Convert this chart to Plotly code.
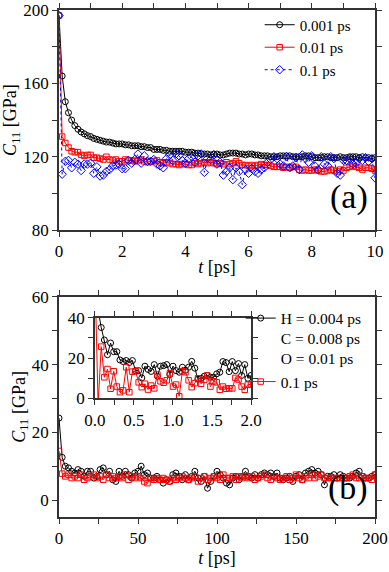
import plotly.graph_objects as go

# panel (a): C11 vs t for three time steps, sampled every 0.1 ps
t_a = [round(0.1 * i, 1) for i in range(101)]
c11_001 = [197, 164, 150, 144, 140, 137, 135, 133.5, 132.5, 131.5,
           131, 130, 129.5, 129, 128.5, 128, 128, 127.5, 127, 127,
           127, 126.5, 126.5, 126, 126, 126, 125.5, 125.5, 125, 125,
           124, 124, 124, 123.5, 123.5, 123, 123, 123, 123, 123,
           122.5, 122.5, 122.5, 122, 122, 121.5, 121.5, 121.5, 121, 121.5,
           121.5, 121, 121, 121.5, 122, 122, 122, 121.5, 121.5, 121,
           121.5, 121.5, 121, 121, 120.5, 120.5, 120.5, 120, 120, 120,
           120.5, 120.5, 120.5, 120.5, 120, 120, 120, 120, 120.5, 120.5,
           120, 119.5, 119.5, 119.5, 120, 120, 119.5, 119.5, 119.5, 120,
           119.5, 119.5, 120, 120, 120, 119.5, 120, 119.5, 119.5, 119,
           119.5]
c11_01 = [197, 131, 127.5, 125, 123, 122.5, 122.5, 121, 120.5, 121,
          121, 119.5, 119.5, 119, 118.5, 120, 118.5, 118, 118.5, 117.5,
          117.5, 118.5, 118, 118, 117.5, 118, 118.5, 117.5, 117, 117.5,
          117.5, 118, 117, 116.5, 117, 116.5, 116, 116, 115.5, 116,
          116, 115.5, 115.5, 116.5, 116, 116.5, 117, 116.5, 117, 116.5,
          116, 116.5, 116, 117, 116, 116.5, 117.5, 116.5, 115.5, 115.5,
          115, 115.5, 115, 115.5, 116, 115.5, 115.5, 115, 114.5, 114.5,
          114.5, 114, 114.5, 114, 114.5, 114.5, 113, 112.5, 113, 112.5,
          112.5, 113, 112.5, 112, 112, 112.5, 113, 112.5, 112, 113,
          112.5, 114, 114.5, 115, 114.5, 114, 113, 114, 114, 113.5,
          112.5]
c11_1 = [197, 110.5, 117.5, 118, 114, 117, 116, 112.5, 116, 116,
         116.5, 111, 114.5, 109.5, 110, 112, 113, 115, 115.5, 116,
         113.5, 113.5, 118, 116.5, 118.5, 121.5, 116.5, 120.5, 117.5, 117.5,
         118.5, 116, 115, 114, 119, 121, 118, 121.5, 120.5, 118,
         116.5, 119, 120, 117, 120.5, 121.5, 111.5, 119, 118.5, 121,
         116, 117, 110, 112, 114, 107.5, 114, 112, 104.8, 113,
         111, 113.5, 112, 111, 113, 114, 117, 118.5, 120, 119,
         116, 115, 120, 114, 115, 119.5, 113, 121, 119, 117,
         120.5, 115, 113, 120, 116, 115, 120, 119, 111, 110,
         118, 118, 119, 116, 116.5, 119, 118, 119.5, 117.5, 119,
         108.5]

# panel (b): long run, sampled every 2 ps
t_b = [2 * i for i in range(101)]
c11_mixed = [24.2, 12.6, 10, 9.5, 8.5, 8, 9, 8.5, 7, 8.5,
             8.5, 6.5, 7, 9, 9.5, 7.5, 8.5, 6, 5.5, 8.5,
             7, 8.5, 7.5, 6.5, 8, 8.5, 10, 7.5, 8, 6.5,
             6.5, 7, 6, 5, 6, 5.5, 7.5, 8, 7, 6,
             7.5, 6, 7, 8.5, 6.5, 5.5, 7, 3.5, 5.5, 7,
             8.5, 7.5, 6.5, 5, 4.5, 6.5, 7, 6, 7, 8.5,
             7, 6.5, 7.5, 6.5, 7.5, 8, 7.5, 8, 7, 8,
             6.5, 6, 6.5, 7, 5.5, 7, 7.5, 6, 8, 8.5,
             9, 8, 8.5, 7.5, 4.5, 7, 7, 7.5, 6.5, 7.5,
             7, 6.5, 6.5, 7, 8, 8.5, 7, 6.5, 6.5, 7,
             7.5]
c11_big = [14.5, 7.8, 7, 7.5, 6.5, 7, 6.5, 7.5, 6, 6.5,
           7, 7.5, 6.5, 7, 6, 7.5, 6.5, 7, 6.5, 7,
           6.5, 7.5, 6, 7, 6.5, 7, 6.5, 5.5, 5, 6.5,
           6, 6.5, 6, 6.5, 6, 5.5, 6.5, 6, 6.5, 7,
           6.5, 6, 6.5, 7, 5.5, 6.5, 7, 6, 6.5, 7,
           6.5, 6, 7.5, 6.5, 6.5, 7, 6, 7, 6.5, 7,
           6.5, 7, 6, 6.5, 7, 7.5, 6.5, 6, 7, 6.5,
           6, 6.5, 7, 6, 6.5, 7.5, 6.5, 6, 7, 6.5,
           7.5, 6.5, 7, 7.5, 6.5, 6.5, 6.5, 6.5, 6.5, 6.5,
           6.5, 6.5, 7, 7.5, 6.5, 6.5, 7, 6.5, 6.5, 6,
           7.5]

# inset of (b): first 2 ps, sampled every 0.04 ps
t_in = [round(0.04 * i, 2) for i in range(51)]
c11_mixed_in = [60, 44, 35.2, 29, 21.7, 27.5, 23.2, 23.2, 19.1, 18.3,
                18.8, 17.8, 18.8, 13.8, 13.8, 10.2, 16, 14.4, 13.4, 16.8,
                11, 16, 16.3, 16.8, 11.9, 16, 13.8, 13, 15.5, 14,
                15.5, 18.4, 15, 9.5, 10, 11, 11.4, 10.5, 10.5, 12.2,
                13, 18.3, 17.8, 13.3, 18.3, 13.8, 17.3, 11.4, 16.8, 10,
                11.4]
c11_big_in = [60, -3, 25.7, 10.5, 14.6, 4.8, 13.5, 5.9, 3.1, 4,
              15.5, 3.1, 13.3, 13.5, 8, 5.6, 7.3, 4.4, 6.4, 5,
              11.9, 8.5, 7.8, 9, 12.5, 5.9, 6.9, 1.1, 13.5, 13,
              9, 5.6, 7.6, 10, 7.3, 9.2, 11.4, 5.9, 8.5, 8,
              4.3, 5.9, 4.8, 5, 5, 10.2, 9.4, 5.9, 4.3, 6.9,
              6.9]

FONT = "Liberation Serif"
BLACK = "#000000"
RED = "#ff0000"
BLUE = "#0000ff"

fig = go.Figure()

def series(x, y, name, color, symbol, xa, ya, dash="solid", legend="legend", show=True, size=6):
    fig.add_trace(go.Scatter(
        x=x, y=y, name=name, mode="lines+markers",
        line=dict(color=color, width=1, dash=dash),
        marker=dict(symbol=symbol, size=size, color=color, line=dict(width=1, color=color)),
        xaxis=xa, yaxis=ya, legend=legend, showlegend=show, cliponaxis=True,
    ))

# panel (a)
series(t_a, c11_001, "0.001 ps", BLACK, "circle-open", "x", "y")
series(t_a, c11_01, "0.01 ps", RED, "square-open", "x", "y", size=5.5)
series(t_a, c11_1, "0.1 ps", BLUE, "diamond-open", "x", "y", dash="dot", size=6.5)

# panel (b)
series(t_b, c11_mixed, "H = 0.004 ps<br>C = 0.008 ps<br>O = 0.01 ps", BLACK, "circle-open", "x2", "y2", legend="legend2")
series(t_b, c11_big, "0.1 ps", RED, "square-open", "x2", "y2", legend="legend2", size=5.5)
series(t_in, c11_mixed_in, "", BLACK, "circle-open", "x3", "y3", show=False)
series(t_in, c11_big_in, "", RED, "square-open", "x3", "y3", show=False, size=5.5)

axis_common = dict(
    showline=True, linecolor="#333333", linewidth=1.5, mirror="ticks",
    ticks="outside", ticklen=5, tickwidth=1.2, tickcolor="#333333",
    showgrid=False, zeroline=False, automargin=False,
    ticklabeloverflow="allow",
    tickfont=dict(family=FONT, size=17, color=BLACK),
)

def ticks(vals, every):
    return dict(tickmode="array", tickvals=vals,
                ticktext=[(str(v) if i % every == 0 else "") for i, v in enumerate(vals)])

xa_ticks = ticks(list(range(0, 11)), 2)
ya_ticks = ticks(list(range(80, 201, 20)), 2)
xb_ticks = ticks(list(range(0, 201, 25)), 2)
yb_ticks = ticks(list(range(0, 61, 10)), 2)
xin_vals = [0, 0.25, 0.5, 0.75, 1, 1.25, 1.5, 1.75, 2]
xin_ticks = dict(tickmode="array", tickvals=xin_vals,
                 ticktext=["0.0", "", "0.5", "", "1.0", "", "1.5", "", "2.0"])
yin_ticks = ticks(list(range(0, 41, 10)), 2)

title_font = dict(family=FONT, size=18, color=BLACK)
ytitle = "<i>C</i><sub>11</sub> [GPa]"
xtitle = "<i>t</i> [ps]"

fig.update_layout(
    width=389, height=572,
    margin=dict(l=59, r=14, t=8, b=55),
    paper_bgcolor="white", plot_bgcolor="white",
    font=dict(family=FONT, size=16, color=BLACK),
    xaxis=dict(domain=[0, 1], range=[0, 10], anchor="y",
               title=dict(text=xtitle, font=title_font, standoff=0), **xa_ticks, **axis_common),
    yaxis=dict(domain=[0.5658, 1], range=[80, 200], anchor="x",
               title=dict(text=ytitle, font=title_font, standoff=2), **ya_ticks, **axis_common),
    xaxis2=dict(domain=[0, 1], range=[0, 200], anchor="y2",
                title=dict(text=xtitle, font=title_font, standoff=0), **xb_ticks, **axis_common),
    yaxis2=dict(domain=[0, 0.4342], range=[-5, 60], anchor="x2",
                title=dict(text=ytitle, font=title_font, standoff=2), **yb_ticks, **axis_common),
    xaxis3=dict(domain=[0.1139, 0.6076], range=[0, 2], anchor="y3", **xin_ticks, **axis_common),
    yaxis3=dict(domain=[0.2338, 0.3929], range=[0, 40], anchor="x3", **yin_ticks, **axis_common),
    legend=dict(x=0.635, y=1.003, xanchor="left", yanchor="top",
                bgcolor="rgba(0,0,0,0)", font=dict(family=FONT, size=15, color=BLACK),
                itemwidth=30, tracegroupgap=0),
    legend2=dict(x=0.575, y=0.425, xanchor="left", yanchor="top", valign="top",
                 bgcolor="rgba(0,0,0,0)", font=dict(family=FONT, size=15.5, color=BLACK),
                 itemwidth=30, tracegroupgap=0),
    annotations=[
        dict(text="(a)", xref="paper", yref="paper", x=0.985, y=0.59,
             xanchor="right", yanchor="bottom", showarrow=False,
             font=dict(family=FONT, size=34, color=BLACK)),
        dict(text="(b)", xref="paper", yref="paper", x=0.985, y=0.015,
             xanchor="right", yanchor="bottom", showarrow=False,
             font=dict(family=FONT, size=34, color=BLACK)),
    ],
)

fig.write_html("out.html", config={"displayModeBar": False},
               post_script="document.body.style.margin='0px';")
